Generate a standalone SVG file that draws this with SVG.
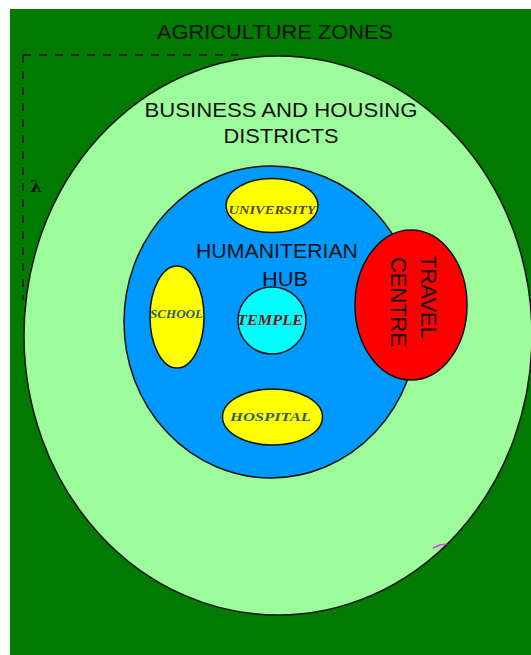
<svg xmlns="http://www.w3.org/2000/svg" width="531" height="655" viewBox="0 0 531 655">
<style>
.sh{stroke:#111;stroke-width:1.5}
.lab{font-family:"Liberation Sans",Arial,sans-serif;fill:#111;text-anchor:middle}
.in{font-family:"Liberation Serif","Times New Roman",serif;font-weight:bold;font-style:italic;text-anchor:middle}
</style>
<rect x="0" y="0" width="531" height="655" fill="#ffffff"/>
<g id="agriculture">
<rect x="10" y="9" width="521" height="646" fill="#007a00"/>
<text class="lab" x="275" y="39" font-size="20" textLength="236" lengthAdjust="spacingAndGlyphs">AGRICULTURE ZONES</text>
</g>
<g id="business">
<ellipse cx="278" cy="335.5" rx="254" ry="279.5" fill="#9cfc9c" class="sh"/>
<text class="lab" x="281" y="117" font-size="21" textLength="273" lengthAdjust="spacingAndGlyphs">BUSINESS AND HOUSING</text>
<text class="lab" x="281" y="143" font-size="21" textLength="115" lengthAdjust="spacingAndGlyphs">DISTRICTS</text>
</g>
<g id="connectors">
<path d="M23,55 H238 M23,55 V300" fill="none" stroke="#111" stroke-width="1.5" stroke-dasharray="8,8"/>
<path d="M433,548 L440,545 L447,544" fill="none" stroke="#e040e0" stroke-width="1.5"/>
</g>
<g id="lambda">
<text x="36" y="192" font-family="'DejaVu Serif',serif" font-weight="bold" font-size="17" fill="#111" text-anchor="middle">λ</text>
</g>
<g id="hub">
<ellipse cx="271" cy="322" rx="147" ry="156" fill="#0099ff" class="sh"/>
<text class="lab" x="277" y="258" font-size="21" textLength="162" lengthAdjust="spacingAndGlyphs">HUMANITERIAN</text>
<text class="lab" x="285" y="286" font-size="21" textLength="46" lengthAdjust="spacingAndGlyphs">HUB</text>
</g>
<g id="university">
<ellipse cx="272" cy="205.5" rx="46" ry="27" fill="#ffff00" class="sh"/>
<text class="in" x="272" y="214" font-size="13" fill="#4a4a1c" textLength="87" lengthAdjust="spacingAndGlyphs">UNIVERSITY</text>
</g>
<g id="school">
<ellipse cx="177" cy="317" rx="27" ry="51" fill="#ffff00" class="sh"/>
<text class="in" x="176.5" y="318" font-size="13" fill="#2e6060" textLength="53" lengthAdjust="spacingAndGlyphs">SCHOOL</text>
</g>
<g id="temple">
<ellipse cx="272" cy="320.5" rx="34" ry="33.5" fill="#00ffff" class="sh"/>
<text class="in" x="270" y="325" font-size="14" fill="#7a1818" textLength="66" lengthAdjust="spacingAndGlyphs">TEMPLE</text>
</g>
<g id="hospital">
<ellipse cx="272.5" cy="417" rx="50" ry="28" fill="#ffff00" class="sh"/>
<text class="in" x="270.5" y="421" font-size="13" fill="#2e6060" textLength="81" lengthAdjust="spacingAndGlyphs">HOSPITAL</text>
</g>
<g id="travel">
<ellipse cx="411" cy="305" rx="56" ry="75" fill="#ff0000" class="sh"/>
<text class="lab" transform="translate(421,297) rotate(90)" font-size="22" textLength="84" lengthAdjust="spacingAndGlyphs">TRAVEL</text>
<text class="lab" transform="translate(391,302) rotate(90)" font-size="22" textLength="90" lengthAdjust="spacingAndGlyphs">CENTRE</text>
</g>
</svg>
